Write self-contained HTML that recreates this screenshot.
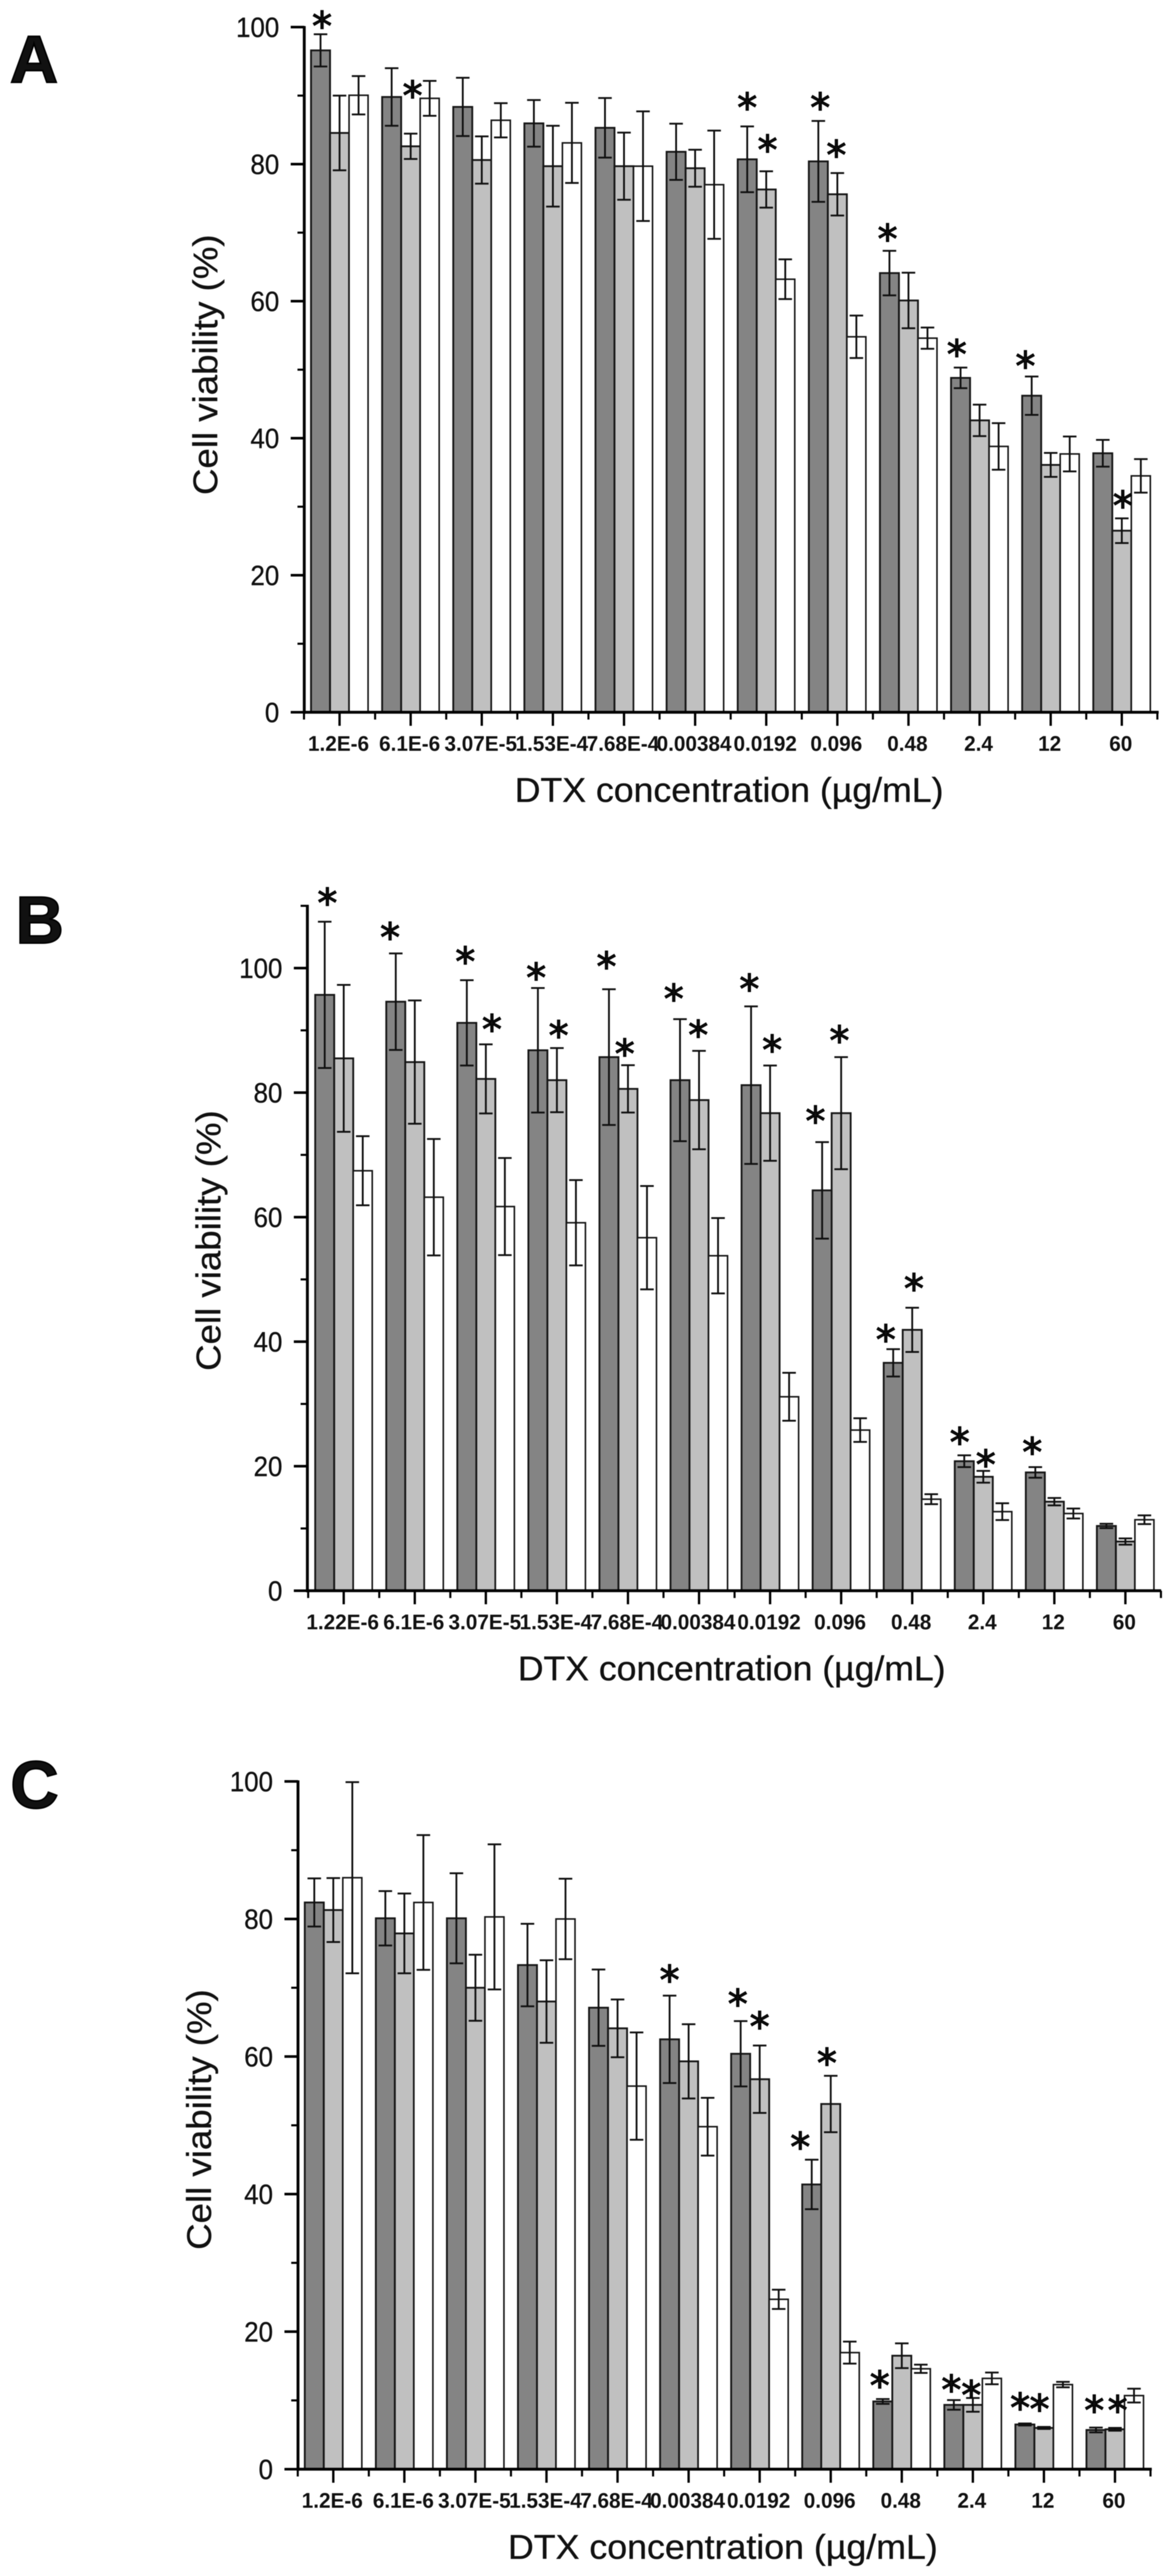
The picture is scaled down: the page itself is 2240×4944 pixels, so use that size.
<!DOCTYPE html>
<html lang="en">
<head>
<meta charset="utf-8">
<title>Cell viability vs DTX concentration</title>
<style>
html,body{margin:0;padding:0;background:#fff;width:2240px;height:4944px;overflow:hidden}
svg{display:block;filter:blur(0.9px)}
text{font-family:"Liberation Sans",sans-serif;fill:#111}
</style>
</head>
<body>
<svg id="figure" xmlns="http://www.w3.org/2000/svg" width="2240" height="4944" viewBox="0 0 2240 4944">
<rect x="0" y="0" width="2240" height="4944" fill="#ffffff"/>
</svg>
<script>
// ---- shared categories and ticks ----
const categoriesA = ["1.2E-6","6.1E-6","3.07E-5","1.53E-4","7.68E-4","0.00384","0.0192","0.096","0.48","2.4","12","60"];
const categoriesB = ["1.22E-6","6.1E-6","3.07E-5","1.53E-4","7.68E-4","0.00384","0.0192","0.096","0.48","2.4","12","60"];
const categoriesC = ["1.2E-6","6.1E-6","3.07E-5","1.53E-4","7.68E-4","0.00384","0.0192","0.096","0.48","2.4","12","60"];
const majorTicks = [0,20,40,60,80,100];
const minorTicksAC = [10,30,50,70,90];
const minorTicksB = [10,30,50,70,90,110];

// ---- panel A ----
const darkA  = [96.6,89.8,88.35,85.95,85.3,81.8,80.7,80.4,64.1,48.8,46.2,37.8];
const lightA = [84.55,82.6,80.6,79.7,79.7,79.4,76.3,75.6,60.1,42.6,36.1,26.5];
const whiteA = [90.05,89.6,86.4,83.1,79.7,77,63.2,54.8,54.6,38.8,37.7,34.5];
const errDarkA  = [2.35,4.2,4.25,3.4,4.35,4.1,4.8,5.9,3.25,1.5,2.8,1.95];
const errLightA = [5.45,1.85,3.45,5.9,4.9,2.7,2.65,3.1,4.05,2.3,1.75,1.8];
const errWhiteA = [2.8,2.55,2.5,5.85,8,7.9,2.9,3.1,1.55,3.4,2.55,2.45];
// significance marks: category index, series index (0 dark, 1 light, 2 white), lift above error cap (value units), sideways nudge (bar widths)
const starsA = [[0,0,2.15,.08],[1,1,6.5,.1],[6,0,3.7,0],[6,1,4.1,.07],[7,0,2.9,.1],[7,1,3.6,-.05],[8,0,2.7,-.1],[9,0,2.9,-.2],[10,0,2.5,-.33],[11,1,2.8,.05]];

// ---- panel B ----
const darkB  = [95.7,94.6,91.2,86.8,85.7,82,81.2,64.3,36.6,20.8,19,10.4];
const lightB = [85.5,84.9,82.2,82,80.6,78.8,76.7,76.7,41.9,18.3,14.3,7.9];
const whiteB = [67.45,63.2,61.7,59.1,56.7,53.8,31.15,25.8,14.7,12.7,12.4,11.4];
const errDarkB  = [11.75,7.75,6.85,10,10.9,9.8,12.65,7.75,2.2,.95,.85,.35];
const errLightB = [11.8,9.9,5.55,5.15,3.8,7.9,7.65,9,3.55,.95,.6,.5];
const errWhiteB = [5.55,9.35,7.8,6.85,8.3,6.05,3.85,1.9,.8,1.35,.8,.7];
const starsB = [[0,0,4.05,.14],[1,0,3.65,-.3],[2,0,4.05,-.08],[2,1,3.45,.32],[3,0,2.7,-.09],[3,1,3.05,.09],[4,0,4.7,-.13],[4,1,2.9,-.17],[5,0,4.3,-.33],[5,1,3.6,-.04],[6,0,3.85,-.09],[6,1,3.55,.11],[7,0,4.45,-.35],[7,1,3.7,-.09],[8,0,2.6,-.39],[8,1,4.15,.09],[9,0,3.15,-.24],[9,1,2.05,.13],[10,0,3.45,-.16]];

// ---- panel C ----
const darkC  = [82.4,80.1,80.1,73.3,67.1,62.5,60.4,41.4,9.85,9.35,6.5,5.7];
const lightC = [81.3,77.9,70,68,64.1,59.3,56.7,53.1,16.5,9.35,6,5.8];
const whiteC = [86,82.4,80.3,80,55.7,49.8,24.7,16.95,14.6,13.2,12.3,10.7];
const errDarkC  = [3.5,3.95,6.55,6,5.55,6.35,4.75,3.6,.35,.7,.15,.35];
const errLightC = [4.65,5.8,4.8,6,4.2,5.4,4.9,4.1,1.8,1,.15,.2];
const errWhiteC = [13.9,9.8,10.55,5.85,7.8,4.2,1.4,1.6,.6,.85,.4,1];
const starsC = [[5,0,3.25,0],[6,0,3.45,-.15],[6,1,3.7,0],[7,1,2.8,-.2],[7,0,2.8,-.6],[8,0,2.9,-.16],[9,0,2.45,-.13],[9,1,1.35,-.08],[10,0,3.25,-.25],[10,1,3.55,-.23],[11,0,3.45,-.09],[11,1,3.5,.14]];

const NS = "http://www.w3.org/2000/svg";
const root = document.getElementById("figure");
const BAR_W = 36.5;
const FILLS = ["#848484","#c0c0c0","#ffffff"];
const SERIES_NAMES = ["dark","light","white"];

function make(tag, parent, attrs, content) {
  const el = document.createElementNS(NS, tag);
  for (const k in attrs) el.setAttribute(k, attrs[k]);
  if (content !== undefined) el.textContent = content;
  parent.appendChild(el);
  return el;
}

function drawPanel(p) {
  const g = make("g", root, {});
  
  

  const yScale = v => p.zero - v * p.unit;
  const groupLeft = i => p.barStart + i * p.step;
  const barLeft = (i, s) => groupLeft(i) + s * BAR_W;
  const barCenter = (i, s) => barLeft(i, s) + BAR_W / 2;
  const xEnd = p.axisX + p.step * p.categories.length + 2;

  const letter = make("text", g, {x:p.letterX, y:p.letterY, "font-size":128, "font-weight":"bold", fill:"#000", stroke:"#000", "stroke-width":3}, p.id);
  
  

  // bars
  p.values.forEach((series, s) => {
    series.forEach((v, i) => {
      const bar = make("rect", g, {
        x: barLeft(i, s), y: yScale(v), width: BAR_W, height: p.zero - yScale(v),
        fill: FILLS[s], stroke: "#161616", "stroke-width": s === 2 ? 3 : 3.5
      });
      
      
    });
  });

  // error bars
  p.values.forEach((series, s) => {
    series.forEach((v, i) => {
      const e = p.errors[s][i];
      const cx = barCenter(i, s);
      const top = yScale(v + e), bottom = yScale(v - e);
      const eb = make("path", g, {
        d: "M" + cx + " " + top + "V" + bottom + "M" + (cx - 13) + " " + top + "H" + (cx + 13) + "M" + (cx - 13) + " " + bottom + "H" + (cx + 13),
        stroke: "#101010", "stroke-width": 3.5, fill: "none"
      });
      
      
    });
  });

  // significance asterisks
  p.stars.forEach(st => {
    const i = st[0], s = st[1], lift = st[2], nudge = st[3];
    const v = p.values[s][i] + p.errors[s][i] + lift;
    const star = make("text", g, {
      x: barCenter(i, s) + nudge * BAR_W, y: yScale(v) + 39,
      "text-anchor": "middle", "font-size": 76, fill: "#000", stroke: "#000", "stroke-width": 2,
      style: 'font-family:"DejaVu Sans",sans-serif'
    }, "*");
    
    
  });

  // y axis
  const yAxis = make("line", g, {x1:p.axisX, x2:p.axisX, y1:yScale(p.yMax)-2, y2:p.zero+3, stroke:"#000","stroke-width":5.5});
  
  
  majorTicks.forEach(t => {
    const tick = make("line", g, {x1:p.axisX-26, x2:p.axisX, y1:yScale(t), y2:yScale(t), stroke:"#000","stroke-width":5});
    
    
    const lab = make("text", g, {
      x: 0, y: 0, "font-size": 54, "text-anchor": "end", stroke: "#111", "stroke-width": 0.6,
      transform: "translate(" + (p.axisX - 48) + " " + (yScale(t) + 19) + ") scale(0.92 1)"
    }, String(t));
    
    
  });
  p.minorTicks.forEach(t => {
    const tick = make("line", g, {x1:p.axisX-13, x2:p.axisX, y1:yScale(t), y2:yScale(t), stroke:"#000","stroke-width":4});
    
    
  });

  // x axis
  const xAxis = make("line", g, {x1:p.axisX-2, x2:xEnd, y1:p.zero, y2:p.zero, stroke:"#000","stroke-width":5.5});
  
  
  p.categories.forEach((c, i) => {
    const cx = barCenter(i, 1);
    const tick = make("line", g, {x1:cx, x2:cx, y1:p.zero, y2:p.zero+26, stroke:"#000","stroke-width":4.5});
    
    
    const mx = cx + p.step / 2;
    const minor = make("line", g, {x1:mx, x2:mx, y1:p.zero, y2:p.zero+14, stroke:"#000","stroke-width":4});
    
    
    const lab = make("text", g, {
      x: 0, y: 0, "font-size": 41, "font-weight": "bold", "text-anchor": "middle", fill: "#222",
      transform: "translate(" + (cx - 2) + " " + (p.zero + 74) + ") scale(0.97 1)"
    }, c);
    
    
  });
  const m0 = barCenter(0, 1) - p.step / 2;
  const first = make("line", g, {x1:m0, x2:m0, y1:p.zero, y2:p.zero+14, stroke:"#000","stroke-width":4});
  
  

  // axis titles
  const xTitle = make("text", g, {
    x: p.xTitleX, y: p.zero + 172, "font-size": 66, textLength: p.xTitleW, lengthAdjust: "spacingAndGlyphs", stroke: "#111", "stroke-width": 0.6
  }, "DTX concentration (\u00b5g/mL)");
  
  
  const yTitle = make("text", g, {
    x: 0, y: 0, "font-size": 66, "text-anchor": "middle", textLength: 500, lengthAdjust: "spacingAndGlyphs", stroke: "#111", "stroke-width": 0.6,
    transform: "translate(" + p.yTitleX + " " + p.yTitleY + ") rotate(-90)"
  }, "Cell viability (%)");
  
  
}

drawPanel({id:"A", categories:categoriesA, values:[darkA,lightA,whiteA], errors:[errDarkA,errLightA,errWhiteA], stars:starsA,
  zero:1367, unit:13.15, yMax:100, minorTicks:minorTicksAC, axisX:584, barStart:597, step:136.5,
  letterX:19, letterY:158, xTitleX:988, xTitleW:823, yTitleX:417, yTitleY:700});
drawPanel({id:"B", categories:categoriesB, values:[darkB,lightB,whiteB], errors:[errDarkB,errLightB,errWhiteB], stars:starsB,
  zero:3053, unit:11.95, yMax:110, minorTicks:minorTicksB, axisX:590, barStart:605, step:136.4,
  letterX:30, letterY:1810, xTitleX:994, xTitleW:821, yTitleX:423, yTitleY:2381});
drawPanel({id:"C", categories:categoriesC, values:[darkC,lightC,whiteC], errors:[errDarkC,errLightC,errWhiteC], stars:starsC,
  zero:4739, unit:13.2, yMax:100, minorTicks:minorTicksAC, axisX:572, barStart:585, step:136.4,
  letterX:20, letterY:3470, xTitleX:975, xTitleW:825, yTitleX:405, yTitleY:4068});
</script>
</body>
</html>
